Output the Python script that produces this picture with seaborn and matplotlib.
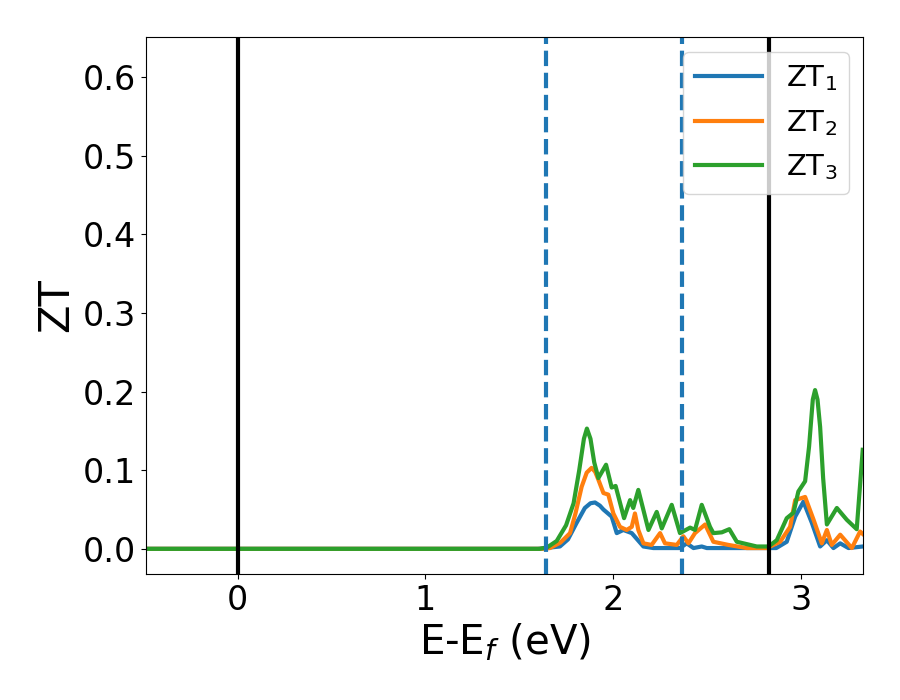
import numpy as np
import pandas as pd
import matplotlib
matplotlib.use("Agg")
import matplotlib.pyplot as plt
import seaborn as sns

# values (E-Ef in eV, ZT)
x_zt1 = [-0.5, 0.0, 1.0, 1.60, 1.717, 1.76, 1.806, 1.85, 1.88, 1.904, 1.93, 1.949, 1.993, 2.020,
         2.055, 2.100, 2.162, 2.215, 2.357, 2.393, 2.429, 2.473, 2.50, 2.70, 2.87, 2.926,
         2.971, 3.015, 3.060, 3.104, 3.140, 3.175, 3.211, 3.255, 3.331]
zt1 = [0.0, 0.0, 0.0, 0.0, 0.003, 0.012, 0.033, 0.052, 0.058, 0.059, 0.055, 0.050, 0.041, 0.020,
       0.024, 0.020, 0.003, 0.001, 0.001, 0.007, 0.001, 0.003, 0.001, 0.001, 0.001, 0.009,
       0.041, 0.060, 0.033, 0.003, 0.011, 0.001, 0.007, 0.001, 0.003]

x_zt2 = [-0.5, 0.0, 1.0, 1.62, 1.664, 1.72, 1.771, 1.80, 1.833, 1.86, 1.886, 1.905, 1.922,
         1.949, 1.975, 2.002, 2.037, 2.073, 2.100, 2.117, 2.135, 2.162, 2.206, 2.251, 2.277,
         2.340, 2.375, 2.402, 2.437, 2.491, 2.535, 2.615, 2.713, 2.820, 2.891, 2.944, 2.971,
         3.024, 3.069, 3.113, 3.140, 3.166, 3.211, 3.273, 3.317, 3.331]
zt2 = [0.0, 0.0, 0.0, 0.0, 0.001, 0.008, 0.020, 0.045, 0.079, 0.097, 0.103, 0.098, 0.088,
       0.071, 0.069, 0.045, 0.028, 0.024, 0.028, 0.045, 0.024, 0.007, 0.005, 0.020, 0.007,
       0.005, 0.016, 0.007, 0.020, 0.031, 0.009, 0.005, 0.001, 0.001, 0.009, 0.028, 0.062,
       0.066, 0.037, 0.007, 0.024, 0.005, 0.018, 0.001, 0.022, 0.019]

x_zt3 = [-0.5, 0.0, 1.0, 1.61, 1.65, 1.70, 1.75, 1.79, 1.82, 1.845, 1.861, 1.88, 1.90, 1.922,
         1.963, 1.993, 2.014, 2.059, 2.091, 2.108, 2.135, 2.189, 2.233, 2.260, 2.313, 2.357,
         2.411, 2.437, 2.473, 2.517, 2.535, 2.580, 2.620, 2.660, 2.731, 2.766, 2.829, 2.873,
         2.926, 2.962, 2.988, 3.024, 3.045, 3.065, 3.077, 3.09, 3.104, 3.12, 3.140, 3.193,
         3.246, 3.299, 3.331]
zt3 = [0.0, 0.0, 0.0, 0.0, 0.002, 0.010, 0.030, 0.058, 0.100, 0.140, 0.153, 0.140, 0.110, 0.090,
       0.107, 0.078, 0.080, 0.039, 0.062, 0.052, 0.075, 0.024, 0.047, 0.026, 0.056, 0.020,
       0.027, 0.024, 0.056, 0.028, 0.020, 0.021, 0.025, 0.009, 0.005, 0.003, 0.003, 0.011,
       0.039, 0.046, 0.073, 0.086, 0.130, 0.190, 0.202, 0.190, 0.155, 0.090, 0.031, 0.052,
       0.037, 0.025, 0.126]

labels = ["ZT$_1$", "ZT$_2$", "ZT$_3$"]
vb_edge = 0.0
cb_edge = 2.83
dashed_lines = [1.643, 2.368]

df = pd.concat([
    pd.DataFrame({"E": x_zt1, "ZT": zt1, "series": labels[0]}),
    pd.DataFrame({"E": x_zt2, "ZT": zt2, "series": labels[1]}),
    pd.DataFrame({"E": x_zt3, "ZT": zt3, "series": labels[2]}),
], ignore_index=True)

fig, ax = plt.subplots(figsize=(9, 7), dpi=100)
fig.subplots_adjust(left=0.162, right=0.959, top=0.947, bottom=0.18)

sns.lineplot(data=df, x="E", y="ZT", hue="series", palette=["#1f77b4", "#ff7f0e", "#2ca02c"],
             linewidth=3, sort=False, estimator=None, ax=ax)
ax.axvline(vb_edge, color="black", lw=3)
ax.axvline(cb_edge, color="black", lw=3)
for d in dashed_lines:
    ax.axvline(d, color="#1f77b4", ls="--", lw=3)

ax.set_xlim(-0.49, 3.333)
ax.set_ylim(-0.032, 0.651)
ax.set_xticks([0, 1, 2, 3])
ax.tick_params(labelsize=24)
ax.set_xlabel("E-E$_f$ (eV)", fontsize=29)
ax.set_ylabel("ZT", fontsize=30)
ax.legend(loc="upper right", fontsize=21, handlelength=2.3)

fig.savefig("out.png", dpi=100)
